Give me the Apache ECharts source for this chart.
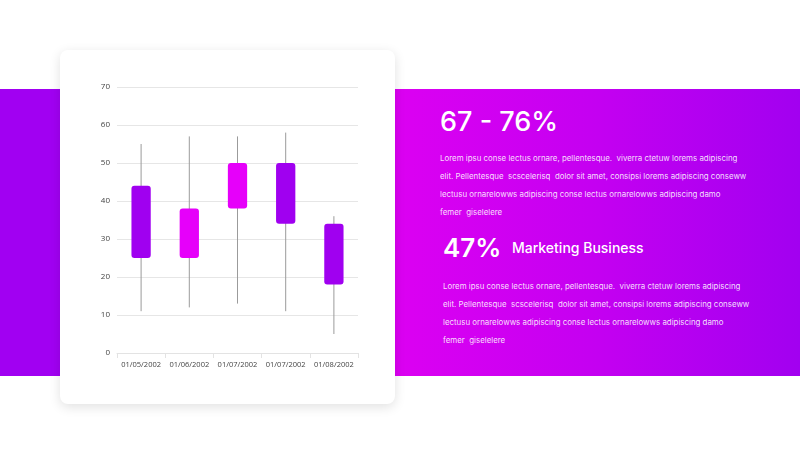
<!DOCTYPE html>
<html>
<head>
<meta charset="utf-8">
<script src="https://cdn.jsdelivr.net/npm/echarts@6/dist/echarts.min.js"></script>
<style>
  html, body { margin: 0; padding: 0; width: 800px; height: 450px; overflow: hidden; background: #fff; font-family: Inter, "Open Sans", sans-serif; }
  .band-left { position: absolute; left: 0; top: 89px; width: 400px; height: 287px; background: #a100f2; }
  .band-right { position: absolute; left: 395px; top: 89px; width: 405px; height: 287px; background: linear-gradient(90deg, #dc00f2 0%, #c400f1 50%, #a200f0 100%); }
  .card { position: absolute; left: 60px; top: 50px; width: 335px; height: 354px; background: #fff; border-radius: 8px; box-shadow: 0 3px 12px rgba(0,0,0,0.12); }
  #chart { width: 335px; height: 354px; }
  .txt { position: absolute; color: #fff; white-space: nowrap; }
  .big { font-size: 27px; font-weight: 500; }
  .para { font-size: 7.9px; line-height: 18px; color: rgba(255,255,255,0.88); }
  .sub { font-size: 14px; font-weight: 500; }
</style>
</head>
<body>
<div class="band-left"></div>
<div class="band-right"></div>
<div class="card"><div id="chart"></div></div>

<div class="txt big" style="left:440px; top:105px;">67 - 76%</div>
<div class="txt para" style="left:440px; top:149px;">
  Lorem ipsu conse lectus ornare, pellentesque.&nbsp; viverra ctetuw lorems adipiscing<br>
  elit. Pellentesque&nbsp; scscelerisq&nbsp; dolor sit amet, consipsi lorems adipiscing conseww<br>
  lectusu ornarelowws adipiscing conse lectus ornarelowws adipiscing damo<br>
  femer&nbsp; giselelere
</div>
<div class="txt big" style="left:443px; top:232px; font-weight:600; font-size:26px;">47%</div>
<div class="txt sub" style="left:512px; top:239px;">Marketing Business</div>
<div class="txt para" style="left:443px; top:277px;">
  Lorem ipsu conse lectus ornare, pellentesque.&nbsp; viverra ctetuw lorems adipiscing<br>
  elit. Pellentesque&nbsp; scscelerisq&nbsp; dolor sit amet, consipsi lorems adipiscing conseww<br>
  lectusu ornarelowws adipiscing conse lectus ornarelowws adipiscing damo<br>
  femer&nbsp; giselelere
</div>

<script>
const dates = ['01/05/2002', '01/06/2002', '01/07/2002', '01/07/2002', '01/08/2002']
const openValues = [44, 25, 38, 50, 34]
const closeValues = [25, 38, 50, 34, 18]
const lowValues = [11, 12, 13, 11, 5]
const highValues = [55, 57, 57, 58, 36]
const yTicks = [0, 10, 20, 30, 40, 50, 60, 70]

const riseColor = '#e600fa'
const fallColor = '#a000f0'

let myChart = echarts.init(document.getElementById('chart'))
let seriesData = []
for (let i = 0; i < dates.length; i++) {
    seriesData.push([i, openValues[i], closeValues[i], lowValues[i], highValues[i]])
}

let option = {
    animation: false,
    grid: { left: 57, right: 37, top: 37, bottom: 51 },
    xAxis: {
        type: 'category',
        data: dates,
        axisLine: { lineStyle: { color: '#e3e3e3' } },
        axisTick: { show: true, interval: 0, lineStyle: { color: '#e3e3e3' } },
        axisLabel: { color: '#444', fontSize: 7.5, margin: 8, interval: 0, fontFamily: 'Open Sans' }
    },
    yAxis: {
        type: 'value',
        min: yTicks[0],
        max: yTicks[yTicks.length - 1],
        interval: 10,
        axisLine: { show: false },
        axisTick: { show: false },
        splitLine: { lineStyle: { color: '#e6e6e6' } },
        axisLabel: { color: '#444', fontSize: 8, margin: 7, fontFamily: 'Open Sans' }
    },
    series: [{
        type: 'custom',
        data: seriesData,
        encode: { x: 0, y: [1, 2, 3, 4] },
        renderItem: function (params, api) {
            let idx = api.value(0)
            let o = api.coord([idx, api.value(1)])
            let c = api.coord([idx, api.value(2)])
            let lo = api.coord([idx, api.value(3)])
            let hi = api.coord([idx, api.value(4)])
            let w = api.size([1, 0])[0] * 0.4
            let top = Math.min(o[1], c[1])
            let color = api.value(2) > api.value(1) ? riseColor : fallColor
            return {
                type: 'group',
                children: [{
                    type: 'line',
                    shape: { x1: o[0], y1: hi[1], x2: o[0], y2: lo[1] },
                    style: { stroke: '#9b9b9b', lineWidth: 1 }
                }, {
                    type: 'rect',
                    shape: { x: o[0] - w / 2, y: top, width: w, height: Math.abs(o[1] - c[1]), r: 3 },
                    style: { fill: color }
                }]
            }
        }
    }]
}
myChart.setOption(option)
</script>
</body>
</html>
